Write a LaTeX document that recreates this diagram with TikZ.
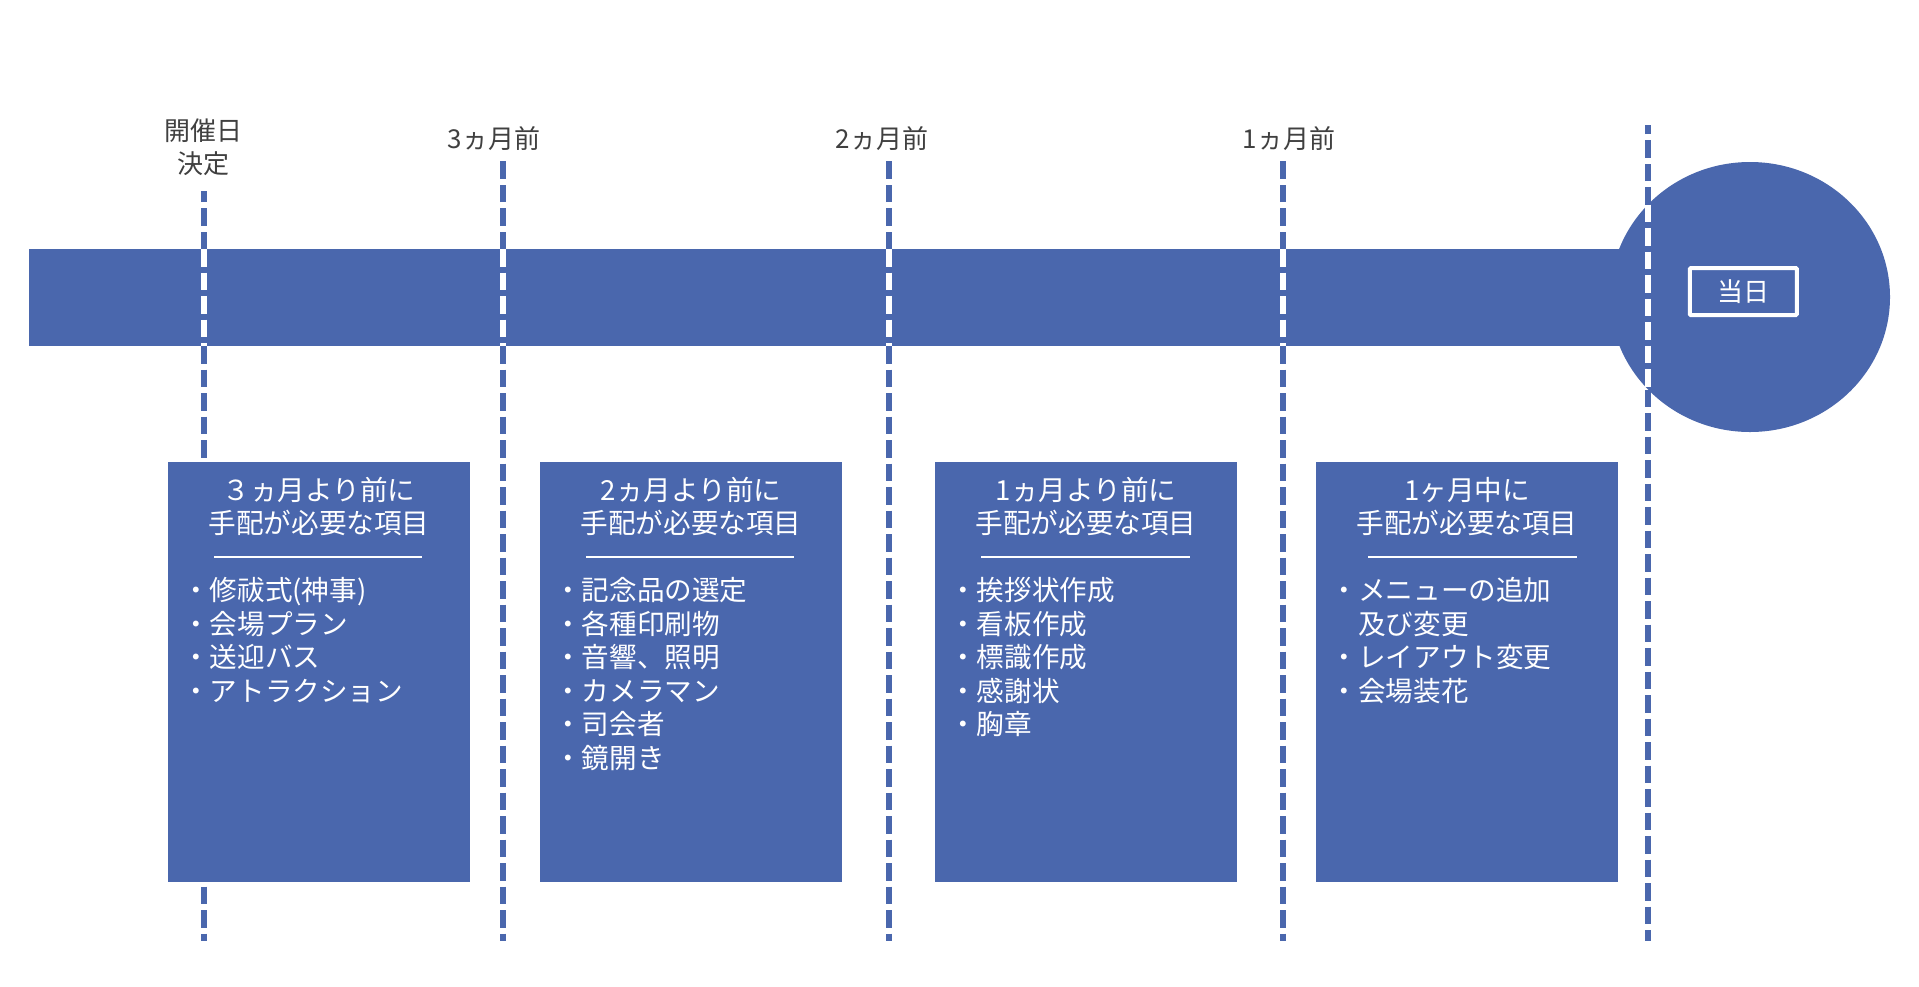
\documentclass[tikz,border=0pt]{standalone}
\usepackage{fontspec}
\setmainfont{Noto Sans CJK JP}
\definecolor{tlblue}{HTML}{4A67AD}
\definecolor{lblgray}{HTML}{404040}
\begin{document}
\begin{tikzpicture}[x=1pt,y=-1pt,
  bluebox/.style={fill=tlblue, draw=none, inner sep=0pt, minimum width=302pt, minimum height=420pt, anchor=north west},
  cjk/.style={inner sep=0pt, text height=24.3pt, text depth=3.3pt, font=\fontsize{27.6pt}{33pt}\selectfont},
  titletext/.style={cjk, text=white, anchor=center},
  itemtext/.style={cjk, text=white, anchor=west},
  lbltext/.style={cjk, text=lblgray, anchor=center, font=\fontsize{26pt}{32pt}\selectfont},
  sepline/.style={draw=white, line width=2pt},
  dashline/.style={line width=5.3pt, dash pattern=on 17.5pt off 6pt},
  bluedash/.style={dashline, draw=tlblue},
  whitedash/.style={dashline, draw=white},
]
\useasboundingbox (0,0) rectangle (1919,986);
\fill[white] (0,0) rectangle (1919,986);

% timeline bar and end circle
\fill[tlblue] (29,249) rectangle (1750,346);
\fill[tlblue] (1750,297) ellipse [x radius=140, y radius=135];

% dashed guide lines: coordinates
\foreach \n/\x/\t in {0/204/191, 1/503/158, 2/889/158, 3/1283/158}{
  \coordinate (top\n) at (\x,\t);
  \coordinate (bt\n) at (\x,249);
  \coordinate (bb\n) at (\x,346);
  \coordinate (end\n) at (\x,941);
  \draw[bluedash] (bt\n) -- (top\n);
  \draw[whitedash] (bt\n) -- (bb\n);
  \draw[bluedash] (bb\n) -- (end\n);
}
\coordinate (top4) at (1648,125);
\coordinate (bt4) at (1648,204.5);
\coordinate (bb4) at (1648,389.5);
\coordinate (end4) at (1648,941);
\draw[bluedash] (bt4) -- (top4);
\draw[whitedash] (bt4) -- (bb4);
\draw[bluedash] (bb4) -- (end4);

% timeline labels
\node[lbltext] (lblA) at (203,130) {開催日};
\node[lbltext] (lblB) at (203,163) {決定};
\node[lbltext] (lbl3) at (494,138) {3ヵ月前};
\node[lbltext] (lbl2) at (882,138) {2ヵ月前};
\node[lbltext] (lbl1) at (1289,138) {1ヵ月前};

% day box
\node[draw=white, line width=4pt, rounded corners=1pt, minimum width=107pt, minimum height=47pt,
      inner sep=0pt, text=white, font=\fontsize{26pt}{32pt}\selectfont, text height=22.9pt, text depth=3.1pt]
      (today) at (1743.3,291.5) {当日};

% boxes
\node[bluebox] (box1) at (168,462) {};
\node[bluebox] (box2) at (540,462) {};
\node[bluebox] (box3) at (935,462) {};
\node[bluebox] (box4) at (1316,462) {};

% box 1
\node[titletext] (t1a) at (319,490) {３ヵ月より前に};
\node[titletext] (t1b) at (319,523) {手配が必要な項目};
\coordinate (s1a) at (214,557); \coordinate (s1b) at (422,557);
\draw[sepline] (s1a) -- (s1b);
\foreach \t [count=\k] in {{・修祓式(神事)},{・会場プラン},{・送迎バス},{・アトラクション}}
  \node[itemtext] (b1i\k) at (182,{590+33.5*(\k-1)}) {\t};

% box 2
\node[titletext] (t2a) at (691,490) {2ヵ月より前に};
\node[titletext] (t2b) at (691,523) {手配が必要な項目};
\coordinate (s2a) at (586,557); \coordinate (s2b) at (794,557);
\draw[sepline] (s2a) -- (s2b);
\foreach \t [count=\k] in {{・記念品の選定},{・各種印刷物},{・音響、照明},{・カメラマン},{・司会者},{・鏡開き}}
  \node[itemtext] (b2i\k) at (554,{590+33.5*(\k-1)}) {\t};

% box 3
\node[titletext] (t3a) at (1086,490) {1ヵ月より前に};
\node[titletext] (t3b) at (1086,523) {手配が必要な項目};
\coordinate (s3a) at (981,557); \coordinate (s3b) at (1190,557);
\draw[sepline] (s3a) -- (s3b);
\foreach \t [count=\k] in {{・挨拶状作成},{・看板作成},{・標識作成},{・感謝状},{・胸章}}
  \node[itemtext] (b3i\k) at (949,{590+33.5*(\k-1)}) {\t};

% box 4
\node[titletext] (t4a) at (1467,490) {1ヶ月中に};
\node[titletext] (t4b) at (1467,523) {手配が必要な項目};
\coordinate (s4a) at (1368,557); \coordinate (s4b) at (1577,557);
\draw[sepline] (s4a) -- (s4b);
\foreach \t [count=\k] in {{・メニューの追加},{\hphantom{・}及び変更},{・レイアウト変更},{・会場装花}}
  \node[itemtext] (b4i\k) at (1330.5,{590+33.5*(\k-1)}) {\t};
\end{tikzpicture}
\end{document}
